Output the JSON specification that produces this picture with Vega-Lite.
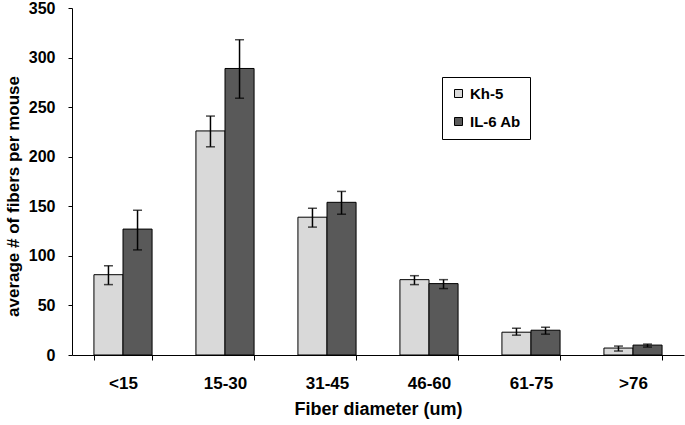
{
  "$schema": "https://vega.github.io/schema/vega-lite/v6.json",
  "width": 612,
  "height": 347,
  "autosize": "none",
  "padding": {"left": 72, "top": 8, "right": 1, "bottom": 70},
  "background": "white",
  "config": {
    "view": {"stroke": null},
    "font": "Liberation Sans"
  },
  "data": {
    "values": [
      {"diameter": "<15", "group": "Kh-5", "value": 81, "lo": 71, "hi": 90},
      {"diameter": "<15", "group": "IL-6 Ab", "value": 127, "lo": 106, "hi": 146},
      {"diameter": "15-30", "group": "Kh-5", "value": 226, "lo": 210, "hi": 241},
      {"diameter": "15-30", "group": "IL-6 Ab", "value": 289, "lo": 259, "hi": 318},
      {"diameter": "31-45", "group": "Kh-5", "value": 139, "lo": 129, "hi": 148},
      {"diameter": "31-45", "group": "IL-6 Ab", "value": 154, "lo": 142, "hi": 165},
      {"diameter": "46-60", "group": "Kh-5", "value": 76, "lo": 71, "hi": 80},
      {"diameter": "46-60", "group": "IL-6 Ab", "value": 72, "lo": 67, "hi": 76},
      {"diameter": "61-75", "group": "Kh-5", "value": 23, "lo": 20, "hi": 27},
      {"diameter": "61-75", "group": "IL-6 Ab", "value": 25, "lo": 21, "hi": 28},
      {"diameter": ">76", "group": "Kh-5", "value": 7, "lo": 4, "hi": 9},
      {"diameter": ">76", "group": "IL-6 Ab", "value": 10, "lo": 8, "hi": 11}
    ]
  },
  "encoding": {
    "x": {
      "field": "diameter",
      "type": "nominal",
      "sort": ["<15", "15-30", "31-45", "46-60", "61-75", ">76"],
      "scale": {"paddingInner": 0.43, "paddingOuter": 0.215},
      "title": "Fiber diameter  (um)",
      "axis": {
        "labelAngle": 0,
        "labelFont": "Liberation Sans",
        "labelFontWeight": "bold",
        "labelFontSize": 17,
        "labelColor": "black",
        "labelPadding": 15,
        "tickBand": "extent",
        "tickSize": 5,
        "tickColor": "black",
        "domainColor": "black",
        "titleFont": "Liberation Sans",
        "titleFontWeight": "bold",
        "titleFontSize": 18,
        "titleColor": "black",
        "titlePadding": 9
      }
    },
    "xOffset": {
      "field": "group",
      "type": "nominal",
      "sort": ["Kh-5", "IL-6 Ab"]
    }
  },
  "layer": [
    {
      "mark": {"type": "bar", "stroke": "black", "strokeWidth": 1},
      "encoding": {
        "y": {
          "field": "value",
          "type": "quantitative",
          "scale": {"domain": [0, 350], "nice": false},
          "title": "average # of fibers per mouse",
          "axis": {
            "values": [0, 50, 100, 150, 200, 250, 300, 350],
            "grid": false,
            "tickSize": 4,
            "tickColor": "black",
            "domainColor": "black",
            "labelPadding": 13,
            "labelFont": "Liberation Sans",
            "labelFontWeight": "bold",
            "labelFontSize": 16,
            "labelColor": "black",
            "titleFont": "Liberation Sans",
            "titleFontWeight": "bold",
            "titleFontSize": 17,
            "titleColor": "black",
            "titleX": -50,
            "titleY": 188
          }
        },
        "fill": {
          "field": "group",
          "type": "nominal",
          "sort": ["Kh-5", "IL-6 Ab"],
          "scale": {"domain": ["Kh-5", "IL-6 Ab"], "range": ["#d9d9d9", "#595959"]},
          "legend": {
            "title": null,
            "orient": "none",
            "legendX": 370,
            "legendY": 69,
            "strokeColor": "black",
            "fillColor": "white",
            "padding": 9,
            "symbolType": "square",
            "symbolSize": 64,
            "symbolStrokeColor": "black",
            "symbolStrokeWidth": 1,
            "labelFont": "Liberation Sans",
            "labelFontWeight": "bold",
            "labelFontSize": 15,
            "labelColor": "black",
            "rowPadding": 12,
            "labelOffset": 4
          }
        }
      }
    },
    {
      "mark": {"type": "rule", "stroke": "black", "strokeWidth": 1.5},
      "encoding": {
        "y": {"field": "lo", "type": "quantitative"},
        "y2": {"field": "hi"}
      }
    },
    {
      "mark": {"type": "tick", "color": "black", "thickness": 1.5, "size": 9, "orient": "horizontal"},
      "encoding": {
        "y": {"field": "lo", "type": "quantitative"}
      }
    },
    {
      "mark": {"type": "tick", "color": "black", "thickness": 1.5, "size": 9, "orient": "horizontal"},
      "encoding": {
        "y": {"field": "hi", "type": "quantitative"}
      }
    }
  ]
}
